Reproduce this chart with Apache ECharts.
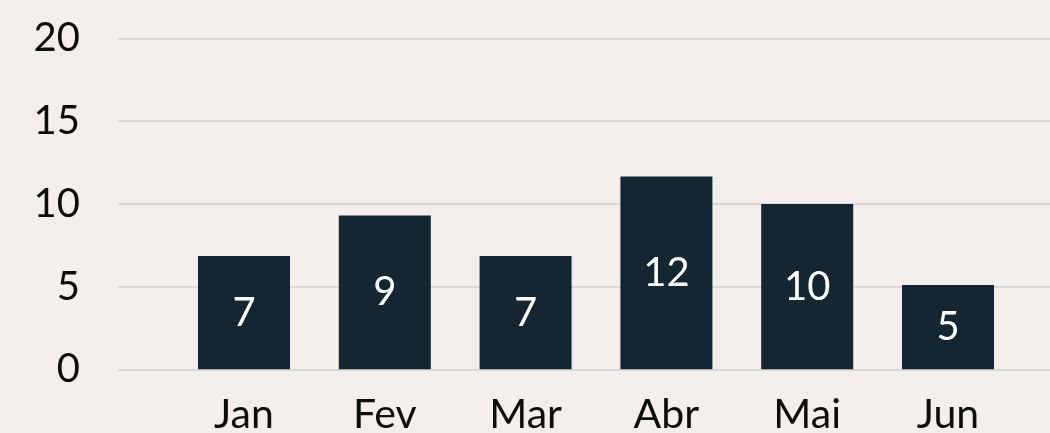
<!DOCTYPE html>
<html><head><meta charset="utf-8">
<script src="https://cdn.jsdelivr.net/npm/echarts@6/dist/echarts.min.js"></script>
<style>html,body{margin:0;padding:0;background:#f4efec;}#c{width:1050px;height:433px;}</style>
</head><body><div id="c"></div>
<script>
const categories = ['Jan','Fev','Mar','Abr','Mai','Jun'];
const values = [6.85, 9.3, 6.85, 11.65, 10.0, 5.1];
const yTicks = [0, 5, 10, 15, 20];

const FONT = 'Lato';
const chart = echarts.init(document.getElementById('c'), null, {renderer:'canvas'});
chart.setOption({
  backgroundColor: '#f4efec',
  animation: false,
  grid: [
    {left: 173.6, right: 31.6, top: 38.5, bottom: 63.7, outerBoundsMode: 'none', containLabel: false},
    {left: 118, right: 0, top: 38.5, bottom: 63.7, outerBoundsMode: 'none', containLabel: false}
  ],
  xAxis: [
    {type:'category', gridIndex:0, data: categories,
     axisLine:{show:false}, axisTick:{show:false},
     axisLabel:{color:'#0d0d0d', fontSize:41, fontFamily:FONT, margin:25}},
    {type:'value', gridIndex:1, show:false, min:0, max:1}
  ],
  yAxis: [
    {type:'value', gridIndex:0, min:yTicks[0], max:yTicks[yTicks.length-1], interval:5, show:false},
    {type:'value', gridIndex:1, min:yTicks[0], max:yTicks[yTicks.length-1], interval:5,
     axisLine:{show:false}, axisTick:{show:false},
     splitLine:{show:true, lineStyle:{color:'#d9d9d9', width:2}},
     axisLabel:{color:'#0d0d0d', fontSize:40, fontFamily:FONT, margin:38}}
  ],
  series: [{
    type:'bar', xAxisIndex:0, yAxisIndex:0, data: values, barWidth: 92,
    itemStyle:{color:'#142631'},
    label:{show:true, position:'inside', color:'#ffffff', fontSize:40, fontFamily:FONT,
      formatter: p => Math.round(p.value)}
  }]
});
</script></body></html>
